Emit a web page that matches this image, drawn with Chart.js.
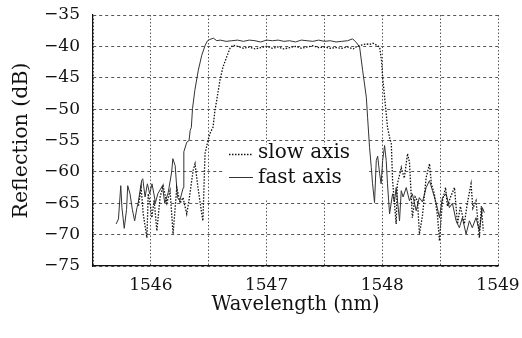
<!DOCTYPE html>
<html>
<head>
<meta charset="utf-8">
<script src="https://cdn.jsdelivr.net/npm/chart.js@4"></script>
<style>
  body { margin: 0; background: #fff; }
  #wrap { width: 522px; height: 338px; }
</style>
</head>
<body>
<div id="wrap"><canvas id="myChart"></canvas></div>
<script>
// wavelength (nm) / reflection (dB)
const fastWl = [1545.70, 1545.72, 1545.74, 1545.75, 1545.77, 1545.79, 1545.80, 1545.82, 1545.84, 1545.86,
  1545.88, 1545.89, 1545.92, 1545.93, 1545.95, 1545.97, 1545.99, 1546.01, 1546.04, 1546.06,
  1546.10, 1546.12, 1546.15, 1546.18, 1546.19, 1546.21, 1546.23, 1546.25, 1546.28, 1546.285,
  1546.31, 1546.33, 1546.34, 1546.35, 1546.36, 1546.38, 1546.41, 1546.44, 1546.47, 1546.49,
  1546.51, 1546.54, 1546.57, 1546.60, 1546.65, 1546.70, 1546.75, 1546.80, 1546.85, 1546.90,
  1546.95, 1547.00, 1547.05, 1547.10, 1547.15, 1547.20, 1547.25, 1547.30, 1547.35, 1547.40,
  1547.45, 1547.50, 1547.55, 1547.60, 1547.65, 1547.70, 1547.744, 1547.776, 1547.804, 1547.83,
  1547.862, 1547.873, 1547.89, 1547.905, 1547.916, 1547.933, 1547.948, 1547.96, 1547.977, 1547.99,
  1548.003, 1548.02, 1548.034, 1548.045, 1548.063, 1548.089, 1548.105, 1548.12, 1548.149, 1548.164,
  1548.18, 1548.207, 1548.235, 1548.26, 1548.293, 1548.32, 1548.347, 1548.379, 1548.408, 1548.434,
  1548.466, 1548.494, 1548.52, 1548.552, 1548.58, 1548.606, 1548.638, 1548.666, 1548.692, 1548.724,
  1548.753, 1548.778, 1548.81, 1548.839, 1548.865, 1548.882];
const fastDb = [-68.3, -67.5, -62.2, -65.7, -69.0, -66.0, -62.2, -63.5, -66.0, -67.8,
  -65.7, -65.0, -61.4, -61.1, -64.0, -61.9, -63.5, -61.9, -64.9, -63.5,
  -62.2, -65.0, -63.3, -60.0, -57.9, -59.0, -64.1, -64.6, -62.5, -56.8,
  -55.3, -55.0, -53.4, -52.9, -49.9, -47.0, -43.8, -41.4, -39.8, -39.1,
  -38.9, -38.7, -39.1, -39.0, -39.2, -39.1, -39.0, -39.2, -39.0, -39.1,
  -39.3, -39.0, -39.1, -39.0, -39.2, -39.1, -39.3, -39.0, -39.1, -39.2,
  -39.0, -39.2, -39.1, -39.3, -39.2, -39.1, -38.8, -39.4, -40.1, -43.8,
  -48.1, -51.3, -56.1, -59.3, -61.9, -64.9, -58.2, -57.5, -60.3, -61.9,
  -58.2, -55.8, -58.2, -61.9, -66.7, -63.5, -64.8, -62.5, -67.8, -63.0,
  -64.0, -62.5, -64.6, -63.5, -66.2, -64.1, -64.8, -62.5, -61.4, -63.0,
  -65.0, -67.3, -64.1, -63.5, -65.7, -65.0, -67.8, -68.9, -67.3, -69.9,
  -67.8, -68.9, -67.3, -69.4, -65.7, -66.5];

const slowWl = [1545.893, 1545.916, 1545.934, 1545.966, 1545.977, 1545.994, 1546.009, 1546.028, 1546.052, 1546.08,
  1546.106, 1546.138, 1546.166, 1546.192, 1546.224, 1546.253, 1546.278, 1546.31, 1546.33, 1546.365,
  1546.382, 1546.407, 1546.44, 1546.45, 1546.468, 1546.494, 1546.51, 1546.537, 1546.554, 1546.569,
  1546.597, 1546.623, 1546.655, 1546.684, 1546.71, 1546.75, 1546.80, 1546.85, 1546.90, 1546.95,
  1547.00, 1547.05, 1547.10, 1547.15, 1547.20, 1547.25, 1547.30, 1547.35, 1547.40, 1547.45,
  1547.50, 1547.55, 1547.60, 1547.65, 1547.70, 1547.75, 1547.78, 1547.82, 1547.86, 1547.89,
  1547.92, 1547.95, 1547.977, 1547.993, 1548.003, 1548.02, 1548.034, 1548.045, 1548.063, 1548.078,
  1548.089, 1548.105, 1548.12, 1548.13, 1548.149, 1548.164, 1548.19, 1548.218, 1548.235, 1548.26,
  1548.284, 1548.304, 1548.321, 1548.347, 1548.379, 1548.408, 1548.425, 1548.45, 1548.477, 1548.494,
  1548.52, 1548.547, 1548.563, 1548.59, 1548.624, 1548.65, 1548.675, 1548.709, 1548.735, 1548.767,
  1548.783, 1548.81, 1548.839, 1548.856, 1548.873];
const slowDb = [-65.4, -62.5, -66.7, -70.5, -63.5, -65.0, -67.3, -64.5, -69.4, -64.0,
  -62.2, -65.0, -63.0, -69.9, -62.5, -65.0, -64.1, -66.7, -64.5, -59.8,
  -58.7, -62.5, -66.7, -67.8, -57.1, -55.0, -53.9, -52.9, -50.2, -48.6,
  -45.4, -43.3, -41.7, -40.3, -39.8, -40.0, -40.3, -40.1, -40.4, -40.2,
  -40.0, -40.3, -40.1, -40.4, -40.2, -40.0, -40.3, -40.1, -39.9, -40.2,
  -40.1, -40.3, -40.2, -40.3, -40.1, -40.4, -40.0, -39.8, -39.6, -39.7,
  -39.5, -39.8, -40.1, -42.2, -44.9, -48.1, -50.7, -52.9, -54.5, -55.5,
  -61.4, -65.0, -68.3, -62.0, -60.5, -59.3, -61.0, -57.1, -58.5, -67.3,
  -64.0, -64.6, -69.9, -67.0, -60.9, -58.7, -62.0, -63.5, -67.0, -71.0,
  -64.6, -62.5, -65.5, -64.0, -62.5, -68.3, -65.5, -68.3, -65.0, -61.9,
  -65.8, -64.6, -70.5, -65.5, -69.4];

const seriesNames = ['slow axis', 'fast axis'];
const xTicks = [1546, 1547, 1548, 1549];

const FONT = 'DejaVu Serif';

// legend drawn inside the plot, like the original figure
const insideLegend = {
  id: 'insideLegend',
  beforeDatasetsDraw(chart) {
    const ctx = chart.ctx;
    ctx.save();
    ctx.fillStyle = '#fff';
    ctx.fillRect(224, 145, 144, 54);
    ctx.strokeStyle = '#111';
    ctx.lineWidth = 1.3;
    ctx.setLineDash([1.5, 1.5]);
    ctx.beginPath(); ctx.moveTo(229, 154.5); ctx.lineTo(253, 154.5); ctx.stroke();
    ctx.setLineDash([]);
    ctx.lineWidth = 1;
    ctx.strokeStyle = '#333';
    ctx.beginPath(); ctx.moveTo(229, 177.5); ctx.lineTo(253, 177.5); ctx.stroke();
    ctx.fillStyle = '#111';
    ctx.font = '20px "' + FONT + '"';
    ctx.textBaseline = 'alphabetic';
    ctx.fillText(seriesNames[0], 258, 158);
    ctx.fillText(seriesNames[1], 258, 183);
    ctx.restore();
  }
};

const data = {
  datasets: [{
    label: seriesNames[0],
    data: slowWl.map((w, i) => ({x: w, y: slowDb[i]})),
    borderColor: '#111',
    borderWidth: 1.3,
    borderDash: [1.5, 1.5],
    pointRadius: 0,
    tension: 0
  }, {
    label: seriesNames[1],
    data: fastWl.map((w, i) => ({x: w, y: fastDb[i]})),
    borderColor: '#333',
    borderWidth: 1,
    pointRadius: 0,
    tension: 0
  }]
};

const config = {
  type: 'line',
  data: data,
  plugins: [insideLegend],
  options: {
    responsive: true,
    maintainAspectRatio: false,
    animation: false,
    layout: {padding: {left: 0, right: 24, top: 15, bottom: 0}},
    plugins: {legend: {display: false}, tooltip: {enabled: false}},
    scales: {
      x: {
        type: 'linear',
        min: 1545.5,
        max: 1549,
        afterFit: (s) => { s.height = 72; s.paddingLeft = 0; s.paddingRight = 0; },
        grid: {color: '#555', lineWidth: 1, drawTicks: false},
        border: {display: true, color: '#111', width: 1.2, dash: [1.5, 2]},
        ticks: {
          stepSize: 0.5,
          autoSkip: false,
          maxRotation: 0,
          padding: 9,
          color: '#111',
          font: {family: FONT, size: 17},
          callback: (v) => xTicks.includes(v) ? String(v) : ''
        },
        title: {display: true, text: 'Wavelength (nm)', color: '#111',
          font: {family: FONT, size: 19.5}, padding: {top: 0, bottom: 21}}
      },
      y: {
        min: -75,
        max: -35,
        afterFit: (s) => { s.width = 93; s.paddingTop = 0; s.paddingBottom = 0; },
        grid: {color: '#555', lineWidth: 1, drawTicks: false},
        border: {display: true, color: '#111', width: 1.2, dash: [3, 3]},
        ticks: {
          stepSize: 5,
          padding: 13,
          color: '#111',
          font: {family: FONT, size: 17},
          callback: (v) => '\u2212' + Math.abs(v)
        },
        title: {display: true, text: 'Reflection (dB)', color: '#111',
          font: {family: FONT, size: 20.5}, padding: {top: 9, bottom: 0}}
      }
    }
  }
};

new Chart(document.getElementById('myChart'), config);
</script>
</body>
</html>
